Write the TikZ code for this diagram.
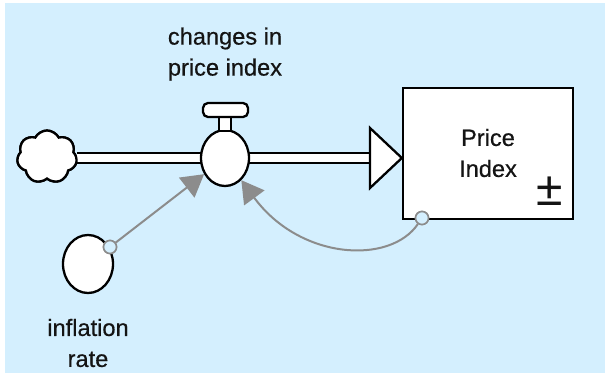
\documentclass[tikz,border=0pt]{standalone}
\usepackage{fontspec}
\setmainfont{Liberation Sans}
\newfontfamily\labelfont{Liberation Sans}[FakeBold=0.5]
\usetikzlibrary{shapes.geometric,shapes.symbols,arrows.meta}

\definecolor{canvas}{RGB}{212,239,254}
\definecolor{linkgray}{RGB}{140,140,140}
\definecolor{ink}{RGB}{20,20,20}

\tikzset{
  outline/.style={draw=black, line width=1.15pt, fill=white},
  label text/.style={text=ink, align=center, inner sep=0pt,
    font=\labelfont\fontsize{11.8}{15.5}\selectfont},
  valvebody/.style={outline, ellipse, minimum width=24pt, minimum height=28pt, inner sep=0pt},
  auxbody/.style={outline, ellipse, minimum width=25pt, minimum height=29pt, inner sep=0pt},
  stockbox/.style={outline, rectangle, minimum width=85pt, minimum height=65.5pt, inner sep=0pt},
  sourcecloud/.style={outline, cloud, cloud puffs=7, cloud puff arc=125, aspect=1.15,
    minimum width=30pt, minimum height=26.5pt, inner sep=0pt},
  port/.style={draw=linkgray, line width=0.8pt, fill=canvas, circle,
    minimum size=6.5pt, inner sep=0pt},
  link/.style={draw=linkgray, line width=1pt,
    -{Triangle[length=11pt, width=12.5pt, fill=linkgray]}},
  pipe/.style={draw=black, line width=1.1pt, double=white, double distance=4.2pt},
}

\begin{document}
\begin{tikzpicture}[x=0.5pt, y=-0.5pt]
  % page and canvas
  \path[fill=white] (0,0) rectangle (605,375);
  \path[fill=canvas] (5,3) rectangle (605,373);
  \useasboundingbox (0,0) rectangle (605,375);

  % positions of the model elements
  \node[sourcecloud] (cloud) at (47,157) {};
  \node[stockbox] (stock) at (488,153.5) {};
  \coordinate (pipeend) at (371,158);

  % flow pipe
  \draw[pipe] (cloud.east |- pipeend) -- (pipeend);

  % valve with its handle
  \node[valvebody] (valve) at (225,158) {};
  \draw[outline] (219,116) rectangle (231,131);
  \draw[outline, rounded corners=2.5pt] (203,103) rectangle (248,117);

  % redraw the cloud over the pipe end
  \node[sourcecloud] at (cloud.center) {};

  % flow arrowhead into the stock
  \draw[outline, line join=miter] (370,128) -- (stock.west |- pipeend) -- (370,188) -- cycle;

  % stock
  \node[stockbox] at (stock.center) {};
  \node[label text] (stocklabel) at (488,153) {Price\\Index};
  \node[text=ink, inner sep=0pt, font=\fontsize{24}{24}\selectfont] (pm) at (550,191) {±};

  % converter
  \node[auxbody] (infl) at (88,264) {};

  % connector ports
  \node[port] (stockport) at (422,218) {};
  \node[port] (inflport) at (110,247) {};

  % information links
  \draw[link] (inflport) -- (valve);
  \draw[link] (stockport) .. controls (390,265) and (300,260) .. (valve);

  % ports on top of the links
  \node[port] at (stockport.center) {};
  \node[port] at (inflport.center) {};

  % labels
  \node[label text] (flowlabel) at (225,54) {changes in\\price index};
  \node[label text] (infllabel) at (88,343) {inflation\\rate};
\end{tikzpicture}
\end{document}
